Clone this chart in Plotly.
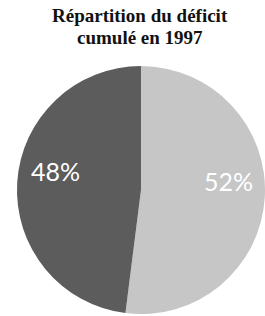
import plotly.graph_objects as go

labels = ["A", "B"]
values = [52, 48]
colors = ["#c6c6c6", "#5c5c5c"]
title_lines = ["Répartition du déficit", "cumulé en 1997"]

fig = go.Figure()
fig.add_trace(go.Pie(
    labels=labels,
    values=values,
    sort=False,
    direction="clockwise",
    rotation=0,
    marker=dict(colors=colors, line=dict(width=0)),
    textinfo="none",
    hoverinfo="label+percent",
    showlegend=False,
    domain=dict(x=[0.064, 1.0], y=[0.006, 0.791]),
))

total = sum(values)
label_pos = [(0.864, 0.427), (0.211, 0.4585)]
for v, (x, y) in zip(values, label_pos):
    fig.add_annotation(
        x=x, y=y, xref="paper", yref="paper",
        xanchor="center", yanchor="middle",
        text=f"{round(100 * v / total)}%",
        showarrow=False,
        font=dict(family="Lato", size=25, color="white"),
    )

for line, y in zip(title_lines, [0.952, 0.880]):
    fig.add_annotation(
        x=0.528, y=y, xref="paper", yref="paper",
        xanchor="center", yanchor="middle",
        text="<b>" + line + "</b>",
        showarrow=False,
        font=dict(family="Liberation Serif", size=19, color="#111111"),
    )

fig.update_layout(
    width=265, height=316,
    margin=dict(l=0, r=0, t=0, b=0),
    paper_bgcolor="white",
    plot_bgcolor="white",
)

fig.write_html("out.html", config={"displayModeBar": False},
               post_script="document.body.style.margin='0';")
